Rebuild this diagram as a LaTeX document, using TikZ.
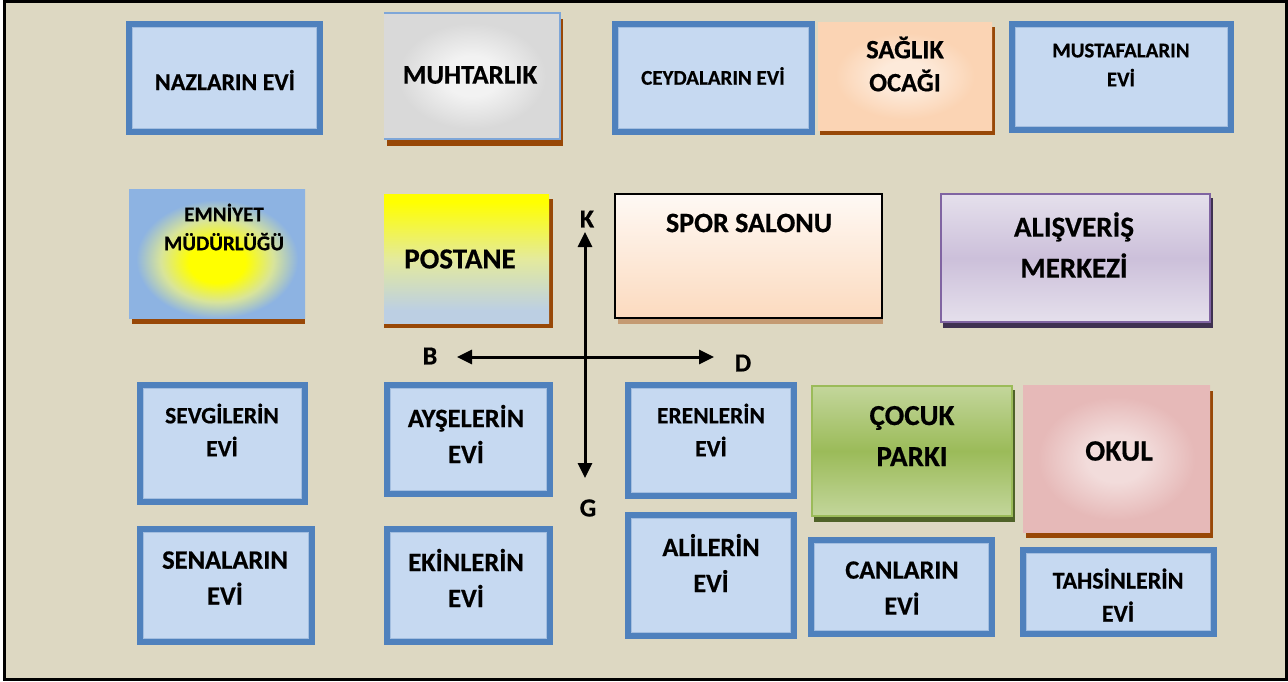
\documentclass[tikz,border=0pt]{standalone}
\usepackage{fontspec}
\setmainfont{Carlito}[BoldFeatures={FakeBold=0.5}]
\usetikzlibrary{arrows.meta}
\definecolor{bgc}{HTML}{DDD8C2}
\definecolor{boxblue}{HTML}{4F81BD}
\definecolor{boxfill}{HTML}{C6D9F1}
\definecolor{innerl}{HTML}{A3BEE0}
\definecolor{shbrown}{HTML}{984807}
\definecolor{shtan}{HTML}{C49A72}
\definecolor{grnb}{HTML}{9BBB59}
\definecolor{grnl}{HTML}{C3D69B}
\definecolor{grnsh}{HTML}{4F6228}
\definecolor{purb}{HTML}{8064A2}
\definecolor{purl}{HTML}{E5E0EC}
\definecolor{purm}{HTML}{CCC0DA}
\definecolor{pursh}{HTML}{3F3151}
\definecolor{pinke}{HTML}{E6B9B8}
\definecolor{pinkc}{HTML}{F2DCDB}
\definecolor{peache}{HTML}{FBD4B4}
\definecolor{peachc}{HTML}{FDEADA}
\definecolor{graye}{HTML}{D9D9D9}
\definecolor{grayc}{HTML}{F2F2F2}
\definecolor{muhb}{HTML}{7EA6D8}
\definecolor{emnb}{HTML}{8DB3E2}
\definecolor{emnm}{HTML}{D8E49A}
\definecolor{postb}{HTML}{BCCFE3}
\definecolor{postm}{HTML}{E4EA9C}
\pgfdeclareradialshading{muhshade}{\pgfpoint{0bp}{0bp}}{color(0bp)=(grayc); color(8bp)=(grayc); color(21bp)=(graye); color(50bp)=(graye)}
\pgfdeclareradialshading{sagshade}{\pgfpoint{0bp}{0bp}}{color(0bp)=(peachc); color(7bp)=(peachc); color(20bp)=(peache); color(50bp)=(peache)}
\pgfdeclareradialshading{okulshade}{\pgfpoint{0bp}{0bp}}{color(0bp)=(pinkc); color(8bp)=(pinkc); color(21bp)=(pinke); color(50bp)=(pinke)}
\pgfdeclareradialshading{emnshade}{\pgfpoint{0bp}{-4bp}}{color(0bp)=(yellow); color(8bp)=(yellow); color(16bp)=(emnm); color(23bp)=(emnb); color(50bp)=(emnb)}
\pgfdeclareverticalshading{postshade}{100bp}{color(0bp)=(postb); color(30bp)=(postb); color(50bp)=(postm); color(72bp)=(yellow); color(100bp)=(yellow)}
\pgfdeclareverticalshading{sporshade}{100bp}{color(0bp)=(peache); color(15bp)=(peache); color(85bp)=(white); color(100bp)=(white)}
\pgfdeclareverticalshading{grnshade}{100bp}{color(0bp)=(grnl); color(25bp)=(grnl); color(50bp)=(grnb); color(75bp)=(grnl); color(100bp)=(grnl)}
\pgfdeclareverticalshading{purshade}{100bp}{color(0bp)=(purl); color(25bp)=(purl); color(50bp)=(purm); color(75bp)=(purl); color(100bp)=(purl)}
\tikzset{
  bluebox/.style={draw=boxblue, line width=6pt, fill=boxfill},
  innerline/.style={draw=innerl, line width=1.2pt},
  lbl/.style={align=center, inner sep=0pt, text=black},
  compass/.style={line width=3pt, {Triangle[length=15pt,width=14pt]}-{Triangle[length=15pt,width=14pt]}},
  plain/.style={inner sep=0pt, outer sep=0pt}
}
\newcommand\BlueBox[5]{%
  \node[bluebox, plain, minimum width={(#4-#2-6)*1pt}, minimum height={(#5-#3-6)*1pt}] (#1) at ({(#2+#4)/2},{(#3+#5)/2}) {};
  \draw[innerline] ([xshift=3.6pt,yshift=-3.6pt]#1.north west) rectangle ([xshift=-3.6pt,yshift=3.6pt]#1.south east);
}
\newcommand\MapBox[6]{%
  \node[plain, #2, minimum width={(#5-#3)*1pt}, minimum height={(#6-#4)*1pt}] (#1) at ({(#3+#5)/2},{(#4+#6)/2}) {};
}
\newcommand\Shadow[5]{\fill[#1] (#2,#3) rectangle (#4,#5);}
\newcommand\Lbl[6]{\node[lbl, font=\fontsize{#4}{#5}\selectfont\bfseries] (#1) at (#2,#3) {#6};}
\begin{document}
\begin{tikzpicture}[x=1pt,y=-1pt]
\useasboundingbox (0,0) rectangle (1288,681);
\fill[white] (0,0) rectangle (1288,681);
\draw[line width=3pt, fill=bgc] (4.5,1.5) rectangle (1286.5,679.5);

% blue houses
\BlueBox{naz}{126}{21}{323}{135}
\BlueBox{cey}{612}{21}{815}{135}
\BlueBox{mus}{1009}{21}{1234}{133}
\BlueBox{sev}{137}{382}{308}{505}
\BlueBox{ays}{384}{382}{553}{497}
\BlueBox{ere}{625}{382}{797}{499}
\BlueBox{sen}{137}{526}{315}{645}
\BlueBox{eki}{384}{526}{553}{645}
\BlueBox{ali}{625}{512}{797}{639}
\BlueBox{can}{808}{537}{995}{637}
\BlueBox{tah}{1020}{547}{1217}{637}

% shadows
\Shadow{shbrown}{387}{19}{563}{146}
\Shadow{shbrown}{132}{195}{305}{324}
\Shadow{shbrown}{384}{199}{553}{328}
\Shadow{shbrown}{820}{27}{995}{135}
\Shadow{shtan}{618}{198}{883}{324}
\Shadow{pursh}{943}{198}{1213}{328}
\Shadow{grnsh}{814}{390}{1015}{522}
\Shadow{shbrown}{1026}{391}{1213}{538}

% public buildings
\MapBox{muh}{shade, shading=muhshade}{384}{13}{560}{139}
\draw[muhb, line width=1.5pt] (muh.north west) -- (muh.north east) -- (muh.south east) -- (muh.south west);
\MapBox{emn}{shade, shading=emnshade}{129}{189}{305}{318}
\MapBox{pos}{shade, shading=postshade}{384}{194}{549}{323}
\MapBox{sag}{shade, shading=sagshade}{818}{22}{992}{130}
\MapBox{spo}{shade, shading=sporshade, draw=black, line width=2pt}{615}{194}{882}{318}
\MapBox{avm}{shade, shading=purshade, draw=purb, line width=2pt}{941}{194}{1210}{322}
\MapBox{coc}{shade, shading=grnshade, draw=grnb, line width=2.5pt}{812}{386}{1012}{516}
\MapBox{oku}{shade, shading=okulshade}{1023}{385}{1210}{532}

% labels
\Lbl{tnaz}{225}{80}{24}{30}{NAZLARIN EVİ}
\Lbl{tcey}{713}{76}{21}{28}{CEYDALARIN EVİ}
\Lbl{tmus}{1121}{65}{21}{29}{MUSTAFALARIN\\EVİ}
\Lbl{tsev}{222}{430}{23.5}{33}{SEVGİLERİN\\EVİ}
\Lbl{tays}{466}{434}{26.5}{36}{AYŞELERİN\\EVİ}
\Lbl{tere}{711}{430}{23.5}{33}{ERENLERİN\\EVİ}
\Lbl{tsen}{225}{578}{26.5}{36}{SENALARIN\\EVİ}
\Lbl{teki}{466}{578}{26.5}{36}{EKİNLERİN\\EVİ}
\Lbl{tali}{711}{563}{26.3}{36}{ALİLERİN\\EVİ}
\Lbl{tcan}{902}{588}{26.3}{36}{CANLARIN\\EVİ}
\Lbl{ttah}{1118}{595}{24}{33}{TAHSİNLERİN\\EVİ}
\Lbl{tmuh}{470}{75}{27}{32}{MUHTARLIK}
\Lbl{temn}{224}{227}{21}{29}{EMNİYET\\MÜDÜRLÜĞÜ}
\Lbl{tpos}{460}{259}{29}{34}{POSTANE}
\Lbl{tsag}{905}{64}{26.5}{33}{SAĞLIK\\OCAĞI}
\Lbl{tspo}{749}{223}{28}{34}{SPOR SALONU}
\Lbl{tavm}{1074}{245}{29}{41}{ALIŞVERİŞ\\MERKEZİ}
\Lbl{tcoc}{912}{436}{29}{41}{ÇOCUK\\PARKI}
\Lbl{toku}{1119}{451}{29.5}{34}{OKUL}

% compass
\coordinate (kt) at (585,232);
\coordinate (gt) at (585,478);
\coordinate (bt) at (457,357);
\coordinate (dt) at (714,357);
\draw[compass] (gt) -- (kt);
\draw[compass] (bt) -- (dt);
\Lbl{lk}{587}{219}{26}{30}{K}
\Lbl{lb}{430}{356}{26}{30}{B}
\Lbl{ld}{743}{363}{26}{30}{D}
\Lbl{lg}{588}{508}{26}{30}{G}
\end{tikzpicture}
\end{document}
